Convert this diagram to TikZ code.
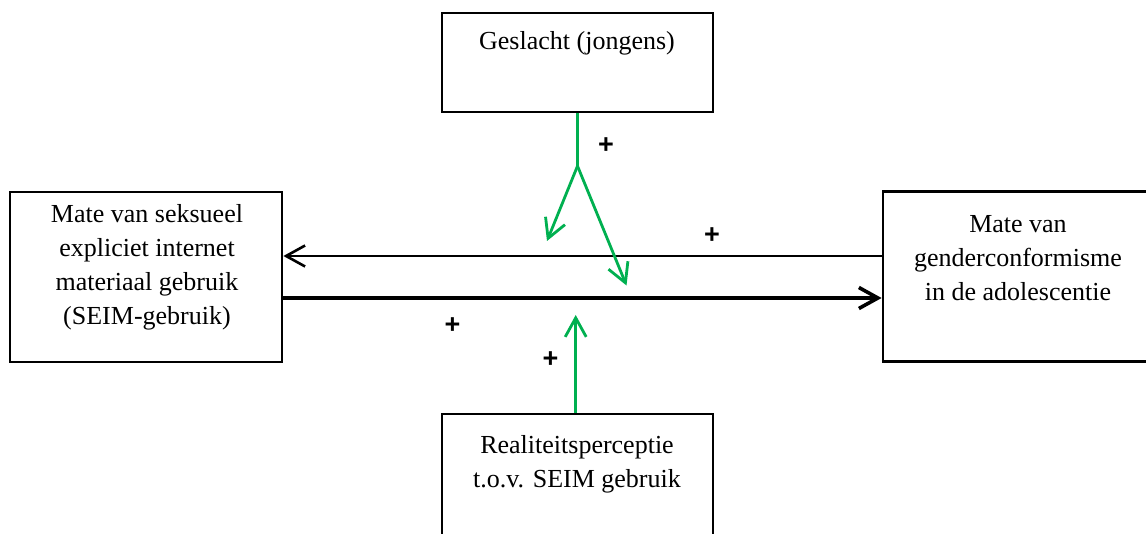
\documentclass[tikz,border=0pt]{standalone}
\usepackage{fontspec}
\setmainfont{Liberation Serif}
\newfontfamily\plusfont{Liberation Sans}
\usetikzlibrary{arrows.meta}
\definecolor{mygreen}{HTML}{00B050}
\begin{document}
\begin{tikzpicture}[x=1pt,y=-1pt,
  box/.style={draw=black, line width=2.8pt, rectangle, inner sep=0pt},
  txt/.style={inner sep=0pt, anchor=north, align=center, font=\fontsize{26}{34}\selectfont},
  plus/.style={inner sep=0pt, font=\plusfont\bfseries\fontsize{27}{27}\selectfont},
  blk/.style={draw=black, line width=2.6pt, -{Straight Barb[length=19pt,width=21pt,line width=2.6pt]}},
  blkthick/.style={draw=black, line width=4pt, -{Straight Barb[length=19pt,width=21pt,line width=3.6pt]}},
  grn/.style={draw=mygreen, line width=2.8pt},
  grnarr/.style={grn, -{Straight Barb[length=19pt,width=21pt,line width=2.8pt]}}
]
\clip (0,0) rectangle (1146,534);
\fill[white] (0,0) rectangle (1146,534);
% boxes
\node[box, minimum width=271pt, minimum height=99pt] (top) at (577.5,62.5) {};
\node[box, minimum width=272pt, minimum height=170pt] (left) at (146,277) {};
\node[box, minimum width=270pt, minimum height=170pt] (right) at (1018,276.5) {};
\node[box, minimum width=271pt, minimum height=160pt] (bottom) at (577.5,494) {};
% texts
\node[txt] (toptxt) at (577,31) {Geslacht (jongens)};
\node[txt] (lefttxt) at (147,204) {Mate van seksueel\\expliciet internet\\materiaal gebruik\\(SEIM-gebruik)};
\node[txt] (righttxt) at (1018,215) {Mate van\\genderconformisme\\in de adolescentie};
\node[txt] (bottomtxt) at (577,435) {Realiteitsperceptie\\t.o.v. SEIM gebruik};
% black arrows
\draw[blk] (right.west |- 0,256) -- (left.east |- 0,256);
\draw[blkthick] (left.east |- 0,298) -- (right.west |- 0,298);
% green moderators
\coordinate (branch) at (577.5,166);
\coordinate (tipA) at (547,241);
\coordinate (tipB) at (626.5,285.5);
\coordinate (tipC) at (575.7,315);
\draw[grn] (top.south -| branch) -- (branch);
\draw[grnarr] (branch) -- (tipA);
\draw[grnarr] (branch) -- (tipB);
\draw[grnarr] (bottom.north -| tipC) -- (tipC);
% plus labels
\node[plus] (p1) at (606,145.5) {+};
\node[plus] (p2) at (712,236) {+};
\node[plus] (p3) at (452.5,326) {+};
\node[plus] (p4) at (550.5,360) {+};
\end{tikzpicture}
\end{document}
